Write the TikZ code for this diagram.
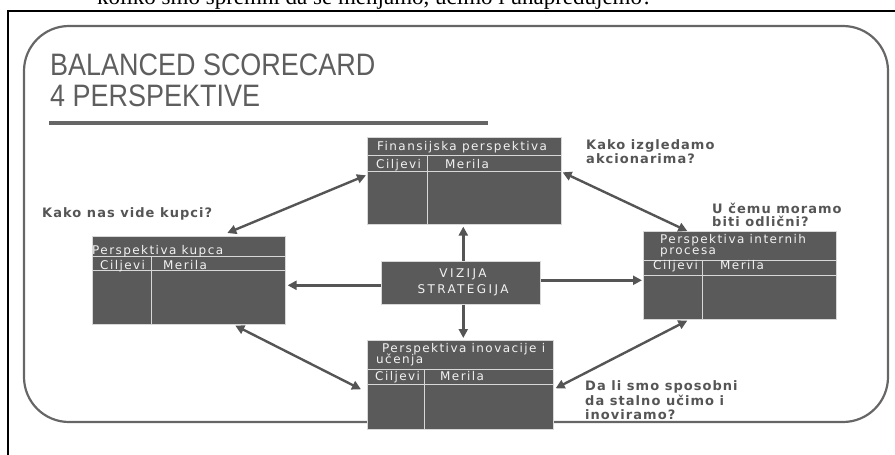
\documentclass[tikz,border=0pt]{standalone}
\usepackage{fontspec}
\setmainfont{Liberation Serif}
\newfontfamily\titlefont[FakeStretch=0.87]{Liberation Sans}
\newfontfamily\boxfont[LetterSpace=12]{DejaVu Sans}
\newfontfamily\qfont[LetterSpace=8]{DejaVu Sans}
\newfontfamily\vizfont[LetterSpace=20]{DejaVu Sans}
\usetikzlibrary{arrows.meta,calc}
\definecolor{boxgray}{HTML}{5A5A5A}
\definecolor{linegray}{HTML}{D8D8D8}
\definecolor{arrgray}{HTML}{555555}
\definecolor{titlegray}{HTML}{5E5E5E}
\definecolor{framegray}{HTML}{666666}
\tikzset{
 pbox/.style={fill=boxgray, draw=linegray, line width=0.6pt, anchor=north west, inner sep=0pt},
 divline/.style={draw=linegray, line width=0.8pt},
 btext/.style={anchor=base west, inner sep=0pt, text=white!95!black, font=\boxfont\fontsize{12}{14}\selectfont},
 qtext/.style={anchor=base west, inner sep=0pt, text=arrgray, font=\qfont\bfseries\fontsize{13}{14.5}\selectfont},
 ttext/.style={anchor=base west, inner sep=0pt, text=titlegray, font=\titlefont\fontsize{31}{31}\selectfont},
 arr/.style={draw=arrgray, line width=2.4pt, -{Triangle[width=9pt,length=9pt]}},
 darr/.style={draw=arrgray, line width=2.4pt, {Triangle[width=9pt,length=9pt]}-{Triangle[width=9pt,length=9pt]}},
}
\begin{document}
\begin{tikzpicture}[x=1pt,y=-1pt]
\useasboundingbox (0,0) rectangle (895,455);
\clip (0,0) rectangle (895,455);
% cut-off text line and page frame
\node[anchor=base west, inner sep=0pt, font=\fontsize{23}{25}\selectfont] (toptext) at (97,5) {koliko smo spremni da se menjamo, učimo i unapređujemo?};
\draw[line width=2pt] (8,456) -- (8,11) -- (896,11);
% slide frame
\draw[framegray, line width=2.2pt, rounded corners=45pt] (24,26) rectangle (888,422);
% title
\node[ttext] (t1) at (50,75) {BALANCED SCORECARD};
\node[ttext] (t2) at (50,106) {4 PERSPEKTIVE};
\draw[framegray, line width=4pt] (49,123) -- (488,123);
% boxes
\node[pbox, minimum width=194pt, minimum height=87pt] (fin) at (367,137) {};
\draw[divline] (367,155) -- (561,155) (367,171) -- (561,171) (427,155) -- (427,224);
\node[btext] (fin1) at (377,150) {Finansijska perspektiva};
\node[btext] (fin2) at (376,168) {Ciljevi};
\node[btext] (fin3) at (445,168) {Merila};

\node[pbox, minimum width=193pt, minimum height=88pt] (kup) at (92,236) {};
\draw[divline] (92,256) -- (285,256) (92,270) -- (285,270) (151,256) -- (151,324);
\node[btext] (kup1) at (92,254) {Perspektiva kupca};
\node[btext] (kup2) at (100,269) {Ciljevi};
\node[btext] (kup3) at (163,269) {Merila};

\node[pbox, minimum width=193pt, minimum height=88pt] (int) at (643,231) {};
\draw[divline] (643,260) -- (836,260) (643,275) -- (836,275) (702,260) -- (702,319);
\node[btext] (int1) at (660,243) {Perspektiva internih};
\node[btext] (int2) at (660,254) {procesa};
\node[btext] (int3) at (653,269) {Ciljevi};
\node[btext] (int4) at (720,269) {Merila};

\node[pbox, minimum width=186pt, minimum height=89pt] (ino) at (367,340) {};
\draw[divline] (367,369) -- (553,369) (367,384) -- (553,384) (424,369) -- (424,429);
\node[btext] (ino1) at (382,352) {Perspektiva inovacije i};
\node[btext] (ino2) at (376,363) {učenja};
\node[btext] (ino3) at (375,380) {Ciljevi};
\node[btext] (ino4) at (440,380) {Merila};

\node[pbox, minimum width=159pt, minimum height=43pt] (viz) at (381,261) {};
\node[inner sep=0pt, text=white!95!black, font=\vizfont\fontsize{12}{14}\selectfont, anchor=base] (viz1) at (463,277) {VIZIJA};
\node[inner sep=0pt, text=white!95!black, font=\vizfont\fontsize{12}{14}\selectfont, anchor=base] (viz2) at (463,293) {STRATEGIJA};
% questions
\node[qtext] (q1) at (42,217) {Kako nas vide kupci?};
\node[qtext] (q2a) at (586,149) {Kako izgledamo};
\node[qtext] (q2b) at (586,163) {akcionarima?};
\node[qtext] (q3a) at (712,213) {U čemu moramo};
\node[qtext] (q3b) at (712,226) {biti odlični?};
\node[qtext] (q4a) at (585,390) {Da li smo sposobni};
\node[qtext] (q4b) at (585,405) {da stalno učimo i};
\node[qtext] (q4c) at (585,419) {inoviramo?};
% arrows
\draw[arr] ([xshift=2.5pt]viz.north) -- ([xshift=2.5pt,yshift=-2pt]viz.north |- fin.south);
\draw[arr] ([xshift=2.5pt]viz.south) -- ([xshift=2.5pt,yshift=2pt]viz.south |- ino.north);
\draw[arr] ([yshift=-2.5pt]viz.west) -- ([xshift=2pt,yshift=-2.5pt]viz.west -| kup.east);
\draw[arr] ([yshift=2.5pt]viz.east) -- ([xshift=-1pt,yshift=2.5pt]viz.east -| int.west);
\draw[darr] ([xshift=38.5pt,yshift=3pt]kup.north) -- ([xshift=-1pt,yshift=5.5pt]fin.west);
\draw[darr] ([xshift=1pt,yshift=8.5pt]fin.east) -- ([xshift=-52.5pt]int.north);
\draw[darr] ([xshift=46.5pt,yshift=-1pt]kup.south) -- ([xshift=-6pt,yshift=-4.5pt]ino.west);
\draw[darr] ([xshift=-52.5pt,yshift=-1pt]int.south) -- ([xshift=2pt,yshift=-3.5pt]ino.east);
\end{tikzpicture}
\end{document}
